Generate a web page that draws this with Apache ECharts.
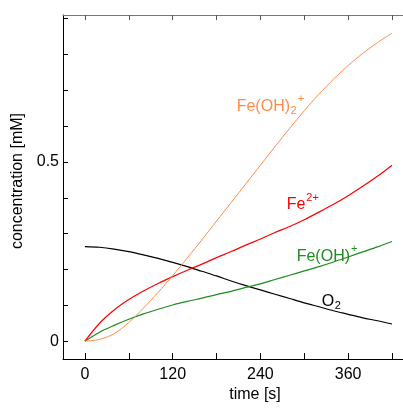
<!DOCTYPE html>
<html>
<head>
<meta charset="utf-8">
<script src="https://cdn.jsdelivr.net/npm/echarts@6/dist/echarts.min.js"></script>
<style>html,body{margin:0;padding:0;background:#fff}#c{width:403px;height:408px}</style>
</head>
<body>
<div id="c"></div>
<script>
const time = [0,20,40,60,80,100,120,140,160,180,200,220,240,260,280,300,320,340,360,380,400,420];
const feOH2 = [0,0.005,0.021,0.052,0.092,0.136,0.183,0.232,0.283,0.335,0.387,0.439,0.491,0.543,0.594,0.643,0.689,0.731,0.769,0.803,0.833,0.859];
const fe2 = [0,0.050,0.087,0.116,0.140,0.161,0.180,0.198,0.215,0.233,0.250,0.268,0.285,0.303,0.320,0.339,0.360,0.382,0.406,0.432,0.460,0.491];
const feOH = [0,0.025,0.044,0.061,0.076,0.089,0.101,0.111,0.120,0.130,0.139,0.150,0.160,0.172,0.184,0.196,0.208,0.221,0.235,0.249,0.263,0.278];
const o2 = [0.264,0.262,0.257,0.250,0.241,0.231,0.220,0.208,0.195,0.182,0.168,0.155,0.143,0.131,0.119,0.107,0.096,0.085,0.075,0.065,0.057,0.048];
const xTicks = [0,60,120,180,240,300,360,420];
const xLabels = [0,120,240,360];
const yTicks = [0,0.1,0.2,0.3,0.4,0.5,0.6,0.7,0.8,0.9];
const yLabels = [0,0.5];

const FONT = 'Liberation Sans';
const cOrange = '#ff8c4c', cRed = '#ff0000', cGreen = '#1f8c1f', cBlack = '#000000';
const pair = (ys) => time.map((t, i) => [t, ys[i]]);

const mctx = document.createElement('canvas').getContext('2d');
function tw(text, size) { mctx.font = size + 'px "' + FONT + '"'; return mctx.measureText(text).width; }

// pieces: [text, kind] kind: 'm' main, 'sub', 'sup'
function label(x, baseline, pieces, color) {
  const children = [];
  let cx = x;
  pieces.forEach(([text, kind]) => {
    let size = 16, y = baseline - 5.6;
    if (kind === 'sub') { size = 11; y = baseline + 3.5 - 3.9; cx += 0.5; }
    if (kind === 'sup') { size = 11; y = baseline - 12.5; cx += 1; }
    children.push({type: 'text', x: cx, y: y, silent: true,
      style: {text: text, fill: color, font: size + 'px "' + FONT + '"', verticalAlign: 'middle', align: 'left'}});
    cx += tw(text, size);
  });
  return {type: 'group', children: children};
}

const chart = echarts.init(document.getElementById('c'), null, {renderer: 'canvas'});

chart.setOption({
  animation: false,
  backgroundColor: '#fff',
  grid: {left: 63, top: 15, bottom: 43, right: 0, containLabel: false},
  xAxis: [{
    type: 'value', min: -30, max: 435, position: 'bottom',
    name: 'time [s]', nameLocation: 'middle', nameGap: 25,
    nameTextStyle: {fontSize: 16, fontFamily: FONT, color: '#000', padding: [0, 0, 0, 44]},
    axisLine: {show: true, onZero: false, lineStyle: {color: '#000', width: 1}},
    axisTick: {show: true, inside: true, length: 6, customValues: xTicks, lineStyle: {color: '#000'}},
    axisLabel: {show: true, customValues: xLabels, fontSize: 16, fontFamily: FONT, color: '#000', margin: 7},
    splitLine: {show: false}
  }, {
    type: 'value', min: -30, max: 435, position: 'top',
    axisLine: {show: true, onZero: false, lineStyle: {color: '#777', width: 1}},
    axisTick: {show: true, inside: true, length: 5, customValues: xTicks, lineStyle: {color: '#555'}},
    axisLabel: {show: false},
    splitLine: {show: false}
  }],
  yAxis: [{
    type: 'value', min: -0.05, max: 0.91, position: 'left',
    name: 'concentration [mM]', nameLocation: 'middle', nameGap: 34,
    nameTextStyle: {fontSize: 16, fontFamily: FONT, color: '#000', padding: [0, 0, 0, 12]},
    axisLine: {show: true, onZero: false, lineStyle: {color: '#000', width: 1}},
    axisTick: {show: true, inside: true, length: 5, customValues: yTicks, lineStyle: {color: '#000'}},
    axisLabel: {show: true, customValues: yLabels, fontSize: 16, fontFamily: FONT, color: '#000', margin: 4,
      formatter: (v) => String(v)},
    splitLine: {show: false}
  }],
  series: [
    {type: 'line', data: pair(o2), showSymbol: false, smooth: 0.3, lineStyle: {color: cBlack, width: 1.2}, itemStyle: {color: cBlack}},
    {type: 'line', data: pair(feOH), showSymbol: false, smooth: 0.3, lineStyle: {color: cGreen, width: 1.2}, itemStyle: {color: cGreen}},
    {type: 'line', data: pair(fe2), showSymbol: false, smooth: 0.3, lineStyle: {color: cRed, width: 1.2}, itemStyle: {color: cRed}},
    {type: 'line', data: pair(feOH2), showSymbol: false, smooth: 0.3, lineStyle: {color: cOrange, width: 1}, itemStyle: {color: cOrange}}
  ],
  graphic: [
    label(236.7, 111.7, [['Fe(OH)', 'm'], ['2', 'sub'], ['+', 'sup']], cOrange),
    label(286.7, 210, [['Fe', 'm'], ['2+', 'sup']], cRed),
    label(296.7, 261.7, [['Fe(OH)', 'm'], ['+', 'sup']], cGreen),
    label(321.7, 306.7, [['O', 'm'], ['2', 'sub']], cBlack)
  ]
});
</script>
</body>
</html>
